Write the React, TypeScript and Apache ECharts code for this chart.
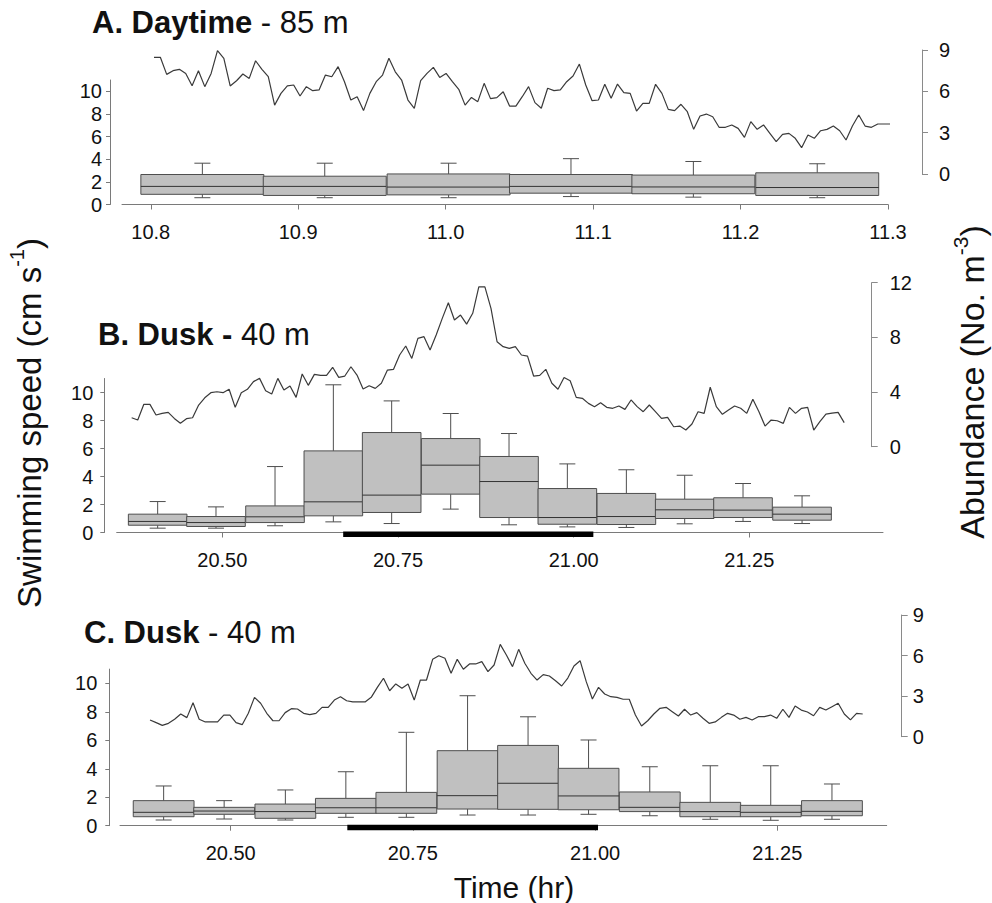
import React, { useEffect, useRef } from "react";
import * as echarts from "echarts";

const FONT = "'Liberation Sans', Arial, Helvetica, sans-serif";

// ---------------- Panel A (Daytime, 85 m) ----------------
const xTicksA = [10.8, 10.9, 11.0, 11.1, 11.2, 11.3];
const boxTimesA = [10.835, 10.918, 11.002, 11.085, 11.168, 11.252];
const lowA = [0.6, 0.6, 0.6, 0.7, 0.65, 0.6];
const q1A = [0.9, 0.8, 0.85, 1.0, 0.95, 0.8];
const medA = [1.6, 1.6, 1.54, 1.6, 1.55, 1.5];
const q3A = [2.65, 2.5, 2.7, 2.65, 2.6, 2.8];
const highA = [3.65, 3.65, 3.65, 4.05, 3.8, 3.6];
const lineStartA = 10.8022;
const lineEndA = 11.306;
const abundA = [
  8.47, 8.47, 7.23, 7.5, 7.6, 7.3, 6.41, 7.5, 6.34, 7.3, 8.95, 8.4, 6.39, 6.77, 7.26, 6.94, 8.22, 7.6, 7.06, 5.0,
  5.85, 6.39, 6.46, 5.66, 6.34, 6.05, 6.1, 7.18, 7.06, 7.79, 6.7, 5.37, 5.61, 4.6, 5.85, 6.7, 7.18, 8.4, 7.42, 6.82,
  5.37, 4.77, 6.77, 7.3, 7.74, 7.01, 7.3, 6.7, 6.15, 5.0, 5.56, 5.25, 6.58, 5.47, 5.54, 5.97, 4.93, 4.93, 5.61, 6.34,
  5.18, 4.77, 6.22, 6.05, 6.1, 6.7, 7.11, 7.98, 6.46, 5.32, 5.37, 6.51, 5.49, 6.53, 5.9, 5.85, 4.57, 5.13, 5.13, 6.51,
  5.85, 4.69, 4.6, 5.06, 4.52, 3.24, 4.21, 4.35, 4.16, 3.39, 3.39, 3.56, 3.31, 2.66, 3.8, 3.24, 3.56, 2.95, 2.35, 2.88,
  2.95, 2.59, 1.91, 2.83, 2.59, 3.14, 3.24, 3.48, 3.14, 2.47, 3.48, 4.28, 3.48, 3.39, 3.63, 3.63, 3.63, 4.35,
];
const rightTicksA = [0, 3, 6, 9];

// ---------------- Panel B (Dusk, 40 m) ----------------
const xTicksBC = [20.5, 20.75, 21.0, 21.25];
const boxTimesBC = [20.408, 20.491, 20.575, 20.658, 20.741, 20.825, 20.908, 20.991, 21.075, 21.158, 21.241, 21.325];
const lowB = [0.31, 0.31, 0.48, 0.76, 0.64, 1.67, 0.55, 0.4, 0.36, 0.62, 0.79, 0.64];
const q1B = [0.52, 0.43, 0.71, 1.19, 1.43, 2.74, 1.07, 0.59, 0.57, 1.0, 1.07, 0.88];
const medB = [0.79, 0.71, 1.12, 2.19, 2.67, 4.81, 3.64, 1.07, 1.14, 1.62, 1.6, 1.31];
const q3B = [1.31, 1.14, 1.9, 5.83, 7.14, 6.71, 5.43, 3.14, 2.79, 2.38, 2.48, 1.81];
const highB = [2.21, 1.83, 4.71, 10.55, 9.4, 8.5, 7.07, 4.9, 4.48, 4.09, 3.5, 2.62];
const darkBarB = [20.672, 21.028];
const lineStartB = 20.371;
const lineEndB = 21.385;
const abundB = [
  2.12, 1.95, 3.1, 3.1, 2.32, 2.44, 2.51, 2.07, 1.71, 2.05, 2.12, 3.05, 3.58, 3.95, 4.02, 3.95, 4.2, 2.88, 3.95, 4.2,
  4.76, 5.0, 4.1, 3.85, 5.0, 4.15, 4.44, 3.61, 5.32, 4.49, 5.29, 5.22, 5.22, 5.81, 5.07, 5.17, 5.85, 5.24, 4.22, 4.46,
  4.27, 4.64, 5.61, 5.66, 6.71, 7.37, 6.46, 7.93, 8.05, 7.07, 8.17, 9.39, 10.53, 9.27, 9.63, 8.97, 9.76, 11.7, 11.7, 10.12,
  7.68, 7.32, 7.2, 7.32, 6.71, 6.63, 5.17, 5.22, 5.66, 4.64, 4.2, 5.07, 4.83, 3.61, 3.54, 3.17, 2.93, 3.22, 2.88, 2.81,
  2.98, 2.73, 3.42, 2.93, 2.56, 3.05, 2.56, 2.07, 2.15, 1.46, 1.51, 1.22, 1.66, 2.56, 2.44, 4.35, 2.93, 2.37, 2.68, 2.98,
  2.81, 2.44, 3.47, 2.56, 1.51, 1.95, 1.9, 1.71, 2.88, 2.44, 2.81, 2.88, 1.22, 1.83, 2.39, 2.46, 2.51, 1.76,
];
const rightTicksB = [0, 4, 8, 12];

// ---------------- Panel C (Dusk, 40 m) ----------------
const lowC = [0.4, 0.47, 0.4, 0.59, 0.59, 0.75, 0.75, 0.8, 0.7, 0.45, 0.38, 0.45];
const q1C = [0.63, 0.8, 0.52, 0.87, 0.87, 1.17, 1.15, 1.12, 0.99, 0.63, 0.63, 0.7];
const medC = [0.94, 1.03, 0.99, 1.26, 1.26, 2.11, 2.98, 2.09, 1.29, 0.99, 0.94, 1.01];
const q3C = [1.76, 1.29, 1.52, 1.92, 2.34, 5.27, 5.64, 4.03, 2.37, 1.64, 1.43, 1.76];
const highC = [2.79, 1.76, 2.51, 3.79, 6.56, 9.13, 7.65, 6.02, 4.14, 4.21, 4.21, 2.93];
const darkBarC = [20.66, 21.004];
const lineStartC = 20.3893;
const lineEndC = 21.3672;
const abundC = [
  1.24, 1.04, 0.84, 0.99, 1.29, 1.68, 1.41, 2.51, 1.29, 1.09, 1.09, 1.09, 1.6, 1.6, 1.04, 0.89, 1.73, 2.91, 2.47, 1.73,
  1.18, 1.18, 1.78, 2.07, 2.05, 1.73, 1.63, 1.73, 2.17, 2.17, 2.71, 2.96, 2.66, 2.57, 2.57, 2.57, 2.91, 3.65, 4.32, 3.4,
  3.9, 3.58, 3.9, 2.71, 4.19, 4.19, 5.72, 5.99, 5.8, 4.69, 5.72, 4.99, 5.38, 5.38, 5.55, 4.81, 5.3, 6.83, 6.04, 5.18,
  6.46, 5.43, 4.69, 4.19, 4.59, 4.49, 4.14, 3.75, 4.34, 5.23, 5.62, 4.07, 2.79, 3.65, 3.16, 2.96, 2.91, 2.77, 2.77, 1.6,
  0.79, 1.18, 1.68, 2.1, 2.17, 1.85, 1.53, 2.03, 1.6, 1.78, 1.36, 0.99, 1.09, 1.43, 1.73, 1.6, 1.29, 1.43, 1.24, 1.48,
  1.48, 1.6, 1.36, 2.03, 1.43, 2.27, 1.97, 1.83, 1.55, 2.17, 1.97, 2.22, 2.47, 1.68, 1.24, 1.73, 1.68,
];
const rightTicksC = [0, 3, 6, 9];

const leftTicks = [0, 2, 4, 6, 8, 10];
const BOX_WIDTH_HR = 0.0834; // 5-minute bins

// -------------- helpers --------------
function timeAxis(start: number, end: number, n: number) {
  const step = (end - start) / (n - 1);
  return Array.from({ length: n }, (_, i) => start + i * step);
}
function boxRows(t: number[], lo: number[], q1: number[], md: number[], q3: number[], hi: number[]) {
  return t.map((x, i) => [x, lo[i], q1[i], md[i], q3[i], hi[i]]);
}
function lineRows(start: number, end: number, vals: number[]) {
  const ts = timeAxis(start, end, vals.length);
  return vals.map((v, i) => [ts[i], v]);
}

const AXIS_COLOR = "#7a7a7a";
const LINE_COLOR = "#3a3a3a";
const BOX_FILL = "#c0c0c0";
const BOX_STROKE = "#4e4e4e";

const renderBox = (params: any, api: any) => {
  const t = api.value(0);
  const lo = api.value(1);
  const q1 = api.value(2);
  const md = api.value(3);
  const q3 = api.value(4);
  const hi = api.value(5);
  const pL = api.coord([t - BOX_WIDTH_HR / 2, md]);
  const pR = api.coord([t + BOX_WIDTH_HR / 2, md]);
  const cx = (pL[0] + pR[0]) / 2;
  const yLo = api.coord([t, lo])[1];
  const yQ1 = api.coord([t, q1])[1];
  const yMd = pL[1];
  const yQ3 = api.coord([t, q3])[1];
  const yHi = api.coord([t, hi])[1];
  const cap = 8;
  const st = { stroke: BOX_STROKE, lineWidth: 1, fill: null };
  return {
    type: "group",
    children: [
      { type: "line", shape: { x1: cx, y1: yQ3, x2: cx, y2: yHi }, style: st },
      { type: "line", shape: { x1: cx, y1: yQ1, x2: cx, y2: yLo }, style: st },
      { type: "line", shape: { x1: cx - cap, y1: yHi, x2: cx + cap, y2: yHi }, style: st },
      { type: "line", shape: { x1: cx - cap, y1: yLo, x2: cx + cap, y2: yLo }, style: st },
      {
        type: "rect",
        shape: { x: pL[0], y: yQ3, width: pR[0] - pL[0], height: yQ1 - yQ3 },
        style: { fill: BOX_FILL, stroke: BOX_STROKE, lineWidth: 1 },
      },
      { type: "line", shape: { x1: pL[0], y1: yMd, x2: pR[0], y2: yMd }, style: { stroke: "#333", lineWidth: 1 } },
    ],
  };
};

const renderBar = (params: any, api: any) => {
  const p0 = api.coord([api.value(0), 0]);
  const p1 = api.coord([api.value(1), 0]);
  return {
    type: "rect",
    shape: { x: p0[0], y: p0[1] - 1, width: p1[0] - p0[0], height: 5.5 },
    style: { fill: "#000" },
  };
};

type PanelLayout = {
  xMin: number;
  xMax: number;
  xTicks: number[];
  dec: number;
  boxGrid: { left: number; right: number; top: number; bottom: number };
  leftOffset: number;
  leftMargin: number;
  lineGrid: { left: number; right: number; top: number; bottom: number };
  rMax: number;
  rTicks: number[];
  rOffset: number;
  rMargin: number;
};

const layouts: PanelLayout[] = [
  {
    xMin: 10.7805, xMax: 11.3, xTicks: xTicksA, dec: 1,
    boxGrid: { left: 122, right: 104, top: 80, bottom: 698.5 },
    leftOffset: 12, leftMargin: 8,
    lineGrid: { left: 122, right: 104, top: 50, bottom: 729 },
    rMax: 9, rTicks: rightTicksA, rOffset: 34, rMargin: 17,
  },
  {
    xMin: 20.3497, xMax: 21.4402, xTicks: xTicksBC, dec: 2,
    boxGrid: { left: 116.7, right: 109, top: 378.5, bottom: 370.5 },
    leftOffset: 12.4, leftMargin: 11,
    lineGrid: { left: 116.7, right: 109, top: 282.7, bottom: 456.3 },
    rMax: 12, rTicks: rightTicksB, rOffset: -11.3, rMargin: 18,
  },
  {
    xMin: 20.3481, xMax: 21.4001, xTicks: xTicksBC, dec: 2,
    boxGrid: { left: 120, right: 105.3, top: 669.1, bottom: 77.3 },
    leftOffset: 10.7, leftMargin: 12,
    lineGrid: { left: 120, right: 105.3, top: 615, bottom: 166.3 },
    rMax: 9, rTicks: rightTicksC, rOffset: 15, rMargin: 11,
  },
];

export default function App() {
  const ref = useRef<HTMLDivElement>(null);

  useEffect(() => {
    if (!ref.current) return;
    const chart = echarts.init(ref.current, null, { renderer: "svg" });

    const grids: any[] = [];
    const xAxes: any[] = [];
    const yAxes: any[] = [];
    layouts.forEach((L) => {
      grids.push({ ...L.boxGrid, containLabel: false });
      grids.push({ ...L.lineGrid, containLabel: false });
      const gi = grids.length - 2;
      xAxes.push({
        type: "value", gridIndex: gi, min: L.xMin, max: L.xMax, position: "bottom",
        axisLine: { show: true, onZero: false, lineStyle: { color: AXIS_COLOR, width: 1 } },
        axisTick: { show: true, length: 5, customValues: L.xTicks, lineStyle: { color: AXIS_COLOR } },
        axisLabel: {
          show: true, customValues: L.xTicks, margin: 17, fontSize: 20, fontFamily: FONT, color: "#111",
          formatter: (v: number) => v.toFixed(L.dec),
        },
        splitLine: { show: false },
      });
      xAxes.push({
        type: "value", gridIndex: gi + 1, min: L.xMin, max: L.xMax, show: false,
        splitLine: { show: false },
      });
      yAxes.push({
        type: "value", gridIndex: gi, min: 0, max: 11, position: "left", offset: L.leftOffset,
        axisLine: { show: true, lineStyle: { color: AXIS_COLOR, width: 1 } },
        axisTick: { show: true, length: 4, customValues: leftTicks, lineStyle: { color: AXIS_COLOR } },
        axisLabel: {
          show: true, customValues: leftTicks, margin: L.leftMargin, fontSize: 20, fontFamily: FONT, color: "#111",
        },
        splitLine: { show: false },
      });
      yAxes.push({
        type: "value", gridIndex: gi + 1, min: 0, max: L.rMax, position: "right", offset: L.rOffset,
        axisLine: { show: true, lineStyle: { color: "#8a8a8a", width: 1 } },
        axisTick: { show: true, length: 6, customValues: L.rTicks, lineStyle: { color: "#8a8a8a" } },
        axisLabel: {
          show: true, customValues: L.rTicks, margin: L.rMargin, fontSize: 20, fontFamily: FONT, color: "#111",
        },
        splitLine: { show: false },
      });
    });

    const lineSeries = (xi: number, data: number[][]) => ({
      type: "line", xAxisIndex: xi, yAxisIndex: xi, data, symbol: "none", showSymbol: false,
      lineStyle: { color: LINE_COLOR, width: 1.2 }, silent: true, z: 3,
    });
    const boxSeries = (xi: number, data: number[][]) => ({
      type: "custom", xAxisIndex: xi, yAxisIndex: xi, data, renderItem: renderBox,
      encode: { x: 0, y: [1, 2, 3, 4, 5] }, silent: true, z: 2,
    });
    const barSeries = (xi: number, range: number[]) => ({
      type: "custom", xAxisIndex: xi, yAxisIndex: xi, data: [range], renderItem: renderBar,
      encode: { x: [0, 1] }, silent: true, z: 4,
    });

    const series: any[] = [
      boxSeries(0, boxRows(boxTimesA, lowA, q1A, medA, q3A, highA)),
      lineSeries(1, lineRows(lineStartA, lineEndA, abundA)),
      boxSeries(2, boxRows(boxTimesBC, lowB, q1B, medB, q3B, highB)),
      barSeries(2, darkBarB),
      lineSeries(3, lineRows(lineStartB, lineEndB, abundB)),
      boxSeries(4, boxRows(boxTimesBC, lowC, q1C, medC, q3C, highC)),
      barSeries(4, darkBarC),
      lineSeries(5, lineRows(lineStartC, lineEndC, abundC)),
    ];

    const titleRich = {
      b: { fontFamily: FONT, fontSize: 31, fontWeight: "bold", fill: "#111" },
      r: { fontFamily: FONT, fontSize: 31, fill: "#111" },
    };
    const axisTitleRich = (size: number) => ({
      a: { fontFamily: FONT, fontSize: size, fill: "#111", lineHeight: 44 },
      s: { fontFamily: FONT, fontSize: Math.round(size * 0.62), fill: "#111", verticalAlign: "top" },
    });

    const graphic = [
      { type: "text", x: 92, y: 22, style: { text: "{b|A. Daytime}{r| - 85 m}", verticalAlign: "middle", rich: titleRich } },
      { type: "text", x: 98, y: 334, style: { text: "{b|B. Dusk -}{r| 40 m}", verticalAlign: "middle", rich: titleRich } },
      { type: "text", x: 84, y: 632, style: { text: "{b|C. Dusk}{r| - 40 m}", verticalAlign: "middle", rich: titleRich } },
      {
        type: "text", x: 29, y: 423, rotation: Math.PI / 2,
        style: { text: "{a|Swimming speed (cm s}{s|-1}{a|)}", align: "center", verticalAlign: "middle", rich: axisTitleRich(33) },
      },
      {
        type: "text", x: 972, y: 382, rotation: Math.PI / 2,
        style: { text: "{a|Abundance (No. m}{s|-3}{a|)}", align: "center", verticalAlign: "middle", rich: axisTitleRich(34) },
      },
      {
        type: "text", x: 514, y: 887,
        style: { text: "Time (hr)", fontFamily: FONT, fontSize: 30, fill: "#111", align: "center", verticalAlign: "middle" },
      },
    ];

    chart.setOption({
      animation: false,
      backgroundColor: "#ffffff",
      grid: grids,
      xAxis: xAxes,
      yAxis: yAxes,
      series,
      graphic: { elements: graphic },
    });

    return () => chart.dispose();
  }, []);

  return <div ref={ref} style={{ position: "absolute", left: 0, top: 0, width: 992, height: 903 }} />;
}
